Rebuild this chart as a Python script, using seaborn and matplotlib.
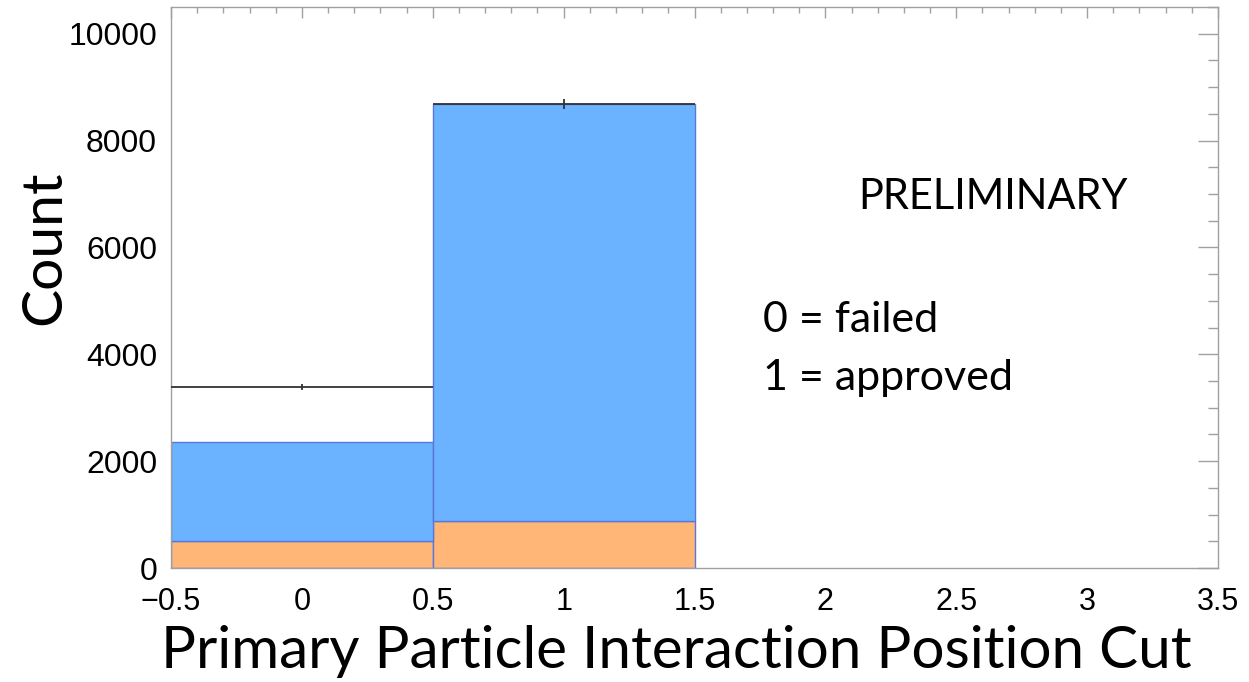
import numpy as np
import pandas as pd
import matplotlib
matplotlib.use("Agg")
import matplotlib.pyplot as plt
from matplotlib.ticker import MultipleLocator
import seaborn as sns

# Histogram contents: cut value (bin centre) and counts per component
cut_values = [0, 1]
bin_edges = [-0.5, 0.5, 1.5]
orange_counts = [500, 885]
blue_counts = [1852, 7802]
data_counts = [3381, 8687]
data_errors = [58, 93]

y_ticks = [0, 2000, 4000, 6000, 8000, 10000]
x_ticks = [-0.5, 0, 0.5, 1, 1.5, 2, 2.5, 3, 3.5]

df = pd.DataFrame({
    "cut": cut_values * 2,
    "count": orange_counts + blue_counts,
    "component": ["orange"] * 2 + ["blue"] * 2,
})

sns.set_theme(style="white")
plt.rcParams["font.family"] = ["Liberation Sans", "DejaVu Sans"]
plt.rcParams["text.color"] = "black"

fig = plt.figure(figsize=(12.49, 6.82), dpi=100)
ax = fig.add_axes([171 / 1249, 1 - 568 / 682, (1218 - 171) / 1249, (568 - 7) / 682])

sns.histplot(
    data=df, x="cut", weights="count", hue="component",
    hue_order=["blue", "orange"],
    palette={"orange": "#ffb677", "blue": "#6bb3ff"},
    multiple="stack", bins=bin_edges, element="bars",
    edgecolor="#5a78d8", linewidth=1.0, alpha=1.0,
    legend=False, ax=ax,
)

ax.errorbar(cut_values, data_counts, xerr=0.5, yerr=data_errors,
            fmt="none", ecolor="#333333", elinewidth=1.3, capsize=0, zorder=5)

ax.set_xlim(-0.5, 3.5)
ax.set_ylim(0, 10500)
ax.set_xticks(x_ticks)
ax.set_xticklabels(["\u22120.5", "0", "0.5", "1", "1.5", "2", "2.5", "3", "3.5"])
ax.set_yticks(y_ticks)
ax.xaxis.set_minor_locator(MultipleLocator(0.1))
ax.yaxis.set_minor_locator(MultipleLocator(500))

tick_col = "#a0a0a0"
ax.tick_params(axis="both", which="both", direction="in", top=True, right=True,
               color=tick_col, width=1.0, labelsize=22, labelcolor="black")
ax.tick_params(axis="x", which="major", length=8, pad=14)
ax.tick_params(axis="x", which="minor", length=4.3)
ax.tick_params(axis="y", which="major", length=14.4, pad=10, labelsize=23)
ax.tick_params(axis="y", which="minor", length=7.2)
for s in ax.spines.values():
    s.set_visible(True)
    s.set_color(tick_col)
    s.set_linewidth(1.0)

ax.set_xlabel("")
ax.set_ylabel("")

text_font = ["Lato", "DejaVu Sans"]
fig.text(45 / 1249, 1 - 248 / 682, "Count", rotation=90, ha="center", va="center",
         fontsize=41, family=text_font, color="black")
fig.text(676 / 1249, 1 - 652 / 682, "Primary Particle Interaction Position Cut",
         ha="center", va="center", fontsize=42, family=text_font, color="black")
fig.text(993 / 1249, 1 - 197 / 682, "PRELIMINARY", ha="center", va="center",
         fontsize=30, family=text_font, color="black")
fig.text(763 / 1249, 1 - 320 / 682, "0 = failed", ha="left", va="center",
         fontsize=31, family=text_font, color="black")
fig.text(763 / 1249, 1 - 378 / 682, "1 = approved", ha="left", va="center",
         fontsize=31, family=text_font, color="black")

fig.savefig("out.png", dpi=100)
